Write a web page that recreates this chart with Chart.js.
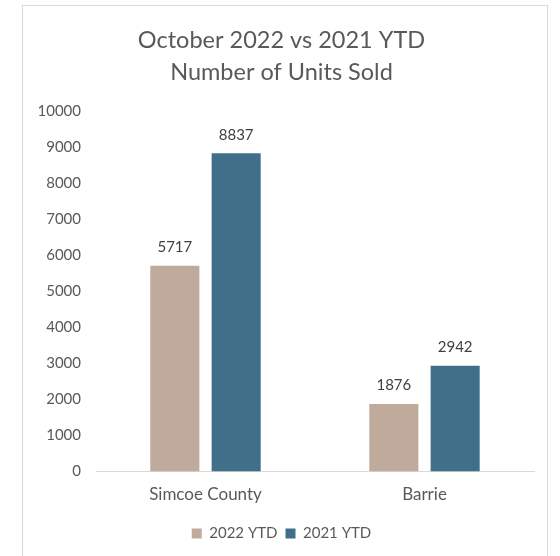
<!DOCTYPE html>
<html>
<head>
<meta charset="utf-8">
<script src="https://cdn.jsdelivr.net/npm/chart.js@4/dist/chart.umd.min.js"></script>
<style>
  body { margin: 0; background: #fff; }
  #frame {
    position: absolute; left: 22px; top: 5px; width: 526px; height: 560px;
    border: 1px solid #d9d9d9; box-sizing: border-box;
  }
  #unitsChart { position: absolute; left: 0; top: 0; }
</style>
</head>
<body>
<div id="frame"></div>
<canvas id="unitsChart" width="560" height="556"></canvas>
<script>
const categories = ["Simcoe County", "Barrie"];
const ytd2022 = [5717, 1876];
const ytd2021 = [8837, 2942];
const seriesNames = ["2022 YTD", "2021 YTD"];
const titleLines = ["October 2022 vs 2021 YTD", "Number of Units Sold"];

const FONT = "Lato, 'Open Sans', sans-serif";

// value labels above each bar
const barLabels = {
  id: "barLabels",
  afterDatasetsDraw(chart) {
    const ctx = chart.ctx;
    ctx.save();
    ctx.font = "15px " + FONT;
    ctx.fillStyle = "#404040";
    ctx.textAlign = "center";
    ctx.textBaseline = "bottom";
    chart.data.datasets.forEach((ds, i) => {
      chart.getDatasetMeta(i).data.forEach((bar, j) => {
        ctx.fillText(ds.data[j], bar.x, bar.y - 11);
      });
    });
    ctx.restore();
  }
};

new Chart(document.getElementById("unitsChart"), {
  type: "bar",
  data: {
    labels: categories,
    datasets: [
      { label: seriesNames[0], data: ytd2022, backgroundColor: "#bfaa9b" },
      { label: seriesNames[1], data: ytd2021, backgroundColor: "#407089" }
    ]
  },
  options: {
    responsive: false,
    animation: false,
    devicePixelRatio: 1,
    layout: { padding: { left: 29, right: 26, top: 14, bottom: 5 } },
    datasets: { bar: { categoryPercentage: 0.56, barPercentage: 0.8 } },
    plugins: {
      title: {
        display: true,
        text: titleLines,
        color: "#595959",
        font: { family: FONT, size: 23.5, weight: "normal", lineHeight: 1.37 },
        padding: { top: 10, bottom: 23 }
      },
      legend: {
        position: "bottom",
        labels: {
          color: "#595959",
          font: { family: FONT, size: 15 },
          boxWidth: 10,
          boxHeight: 10,
          padding: 8
        }
      },
      tooltip: { enabled: false }
    },
    scales: {
      x: {
        grid: { display: false, drawTicks: false },
        border: { color: "#d9d9d9" },
        ticks: { color: "#595959", font: { family: FONT, size: 17 }, padding: 13 }
      },
      y: {
        min: 0,
        max: 10000,
        grid: { display: false, drawTicks: false },
        border: { display: false },
        ticks: {
          stepSize: 1000,
          color: "#595959",
          font: { family: FONT, size: 15 },
          padding: 15,
          callback: (v) => String(v)
        },
        afterFit(scale) { scale.width = 67; }
      }
    }
  },
  plugins: [barLabels]
});
</script>
</body>
</html>
